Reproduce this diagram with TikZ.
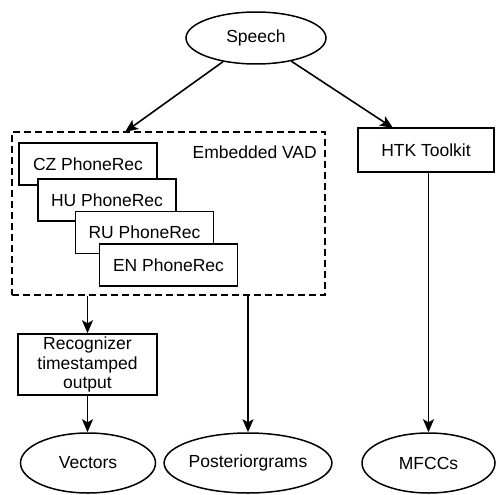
\documentclass[tikz,border=0pt]{standalone}
\usepackage{fontspec}
\setmainfont{Liberation Sans}
\usetikzlibrary{shapes.geometric,arrows.meta}
\begin{document}
\begin{tikzpicture}[x=1pt,y=-1pt,
  every node/.style={font=\fontsize{17.5}{19.5}\selectfont, inner sep=0pt},
  oval/.style={ellipse, draw, line width=1.5pt, fill=white},
  box/.style={rectangle, draw, line width=1.5pt, fill=white},
  phone/.style={box, minimum width=138pt, minimum height=42pt},
  conn/.style={line width=1.6pt, -{Stealth[length=13pt,width=11pt,inset=3pt]}}
]
\useasboundingbox (0,0) rectangle (495,495);
\node[oval, minimum width=140pt, minimum height=52pt] (speech) at (256,38) {Speech};
\node[rectangle, draw, dash pattern=on 7pt off 4pt, line width=1.5pt, minimum width=313pt, minimum height=163pt] (vad) at (168.5,213.5) {};
\node[anchor=east] (vadlabel) at (317,152) {Embedded VAD};
\node[phone] (cz) at (88,164) {CZ PhoneRec};
\node[phone] (hu) at (107,200) {HU PhoneRec};
\node[phone] (ru) at (144.5,232.5) {RU PhoneRec};
\node[phone] (en) at (168.5,265) {EN PhoneRec};
\node[box, minimum width=136pt, minimum height=44pt] (htk) at (426,150) {HTK Toolkit};
\node[box, minimum width=139pt, minimum height=61pt, align=center] (rec) at (87.5,364.5) {Recognizer\\timestamped\\output};
\node[oval, minimum width=135pt, minimum height=60pt] (vec) at (88,463) {Vectors};
\node[oval, minimum width=133pt, minimum height=60pt] (post) at (248,463) {Posteriorgrams};
\node[oval, minimum width=133pt, minimum height=60pt] (mfcc) at (428.5,463) {MFCCs};
\coordinate (vadin) at (125,132);
\coordinate (htkin) at (393,128);
\draw[conn] (speech) -- (vadin);
\draw[conn] (speech) -- (htkin);
\draw[conn] (vad.south -| rec.north) -- (rec.north);
\draw[conn] (rec.south) -- (rec.south |- vec.north);
\draw[conn] (vad.south -| post.north) -- (post.north);
\draw[conn] (htk.south -| mfcc.north) -- (mfcc.north);
\end{tikzpicture}
\end{document}
